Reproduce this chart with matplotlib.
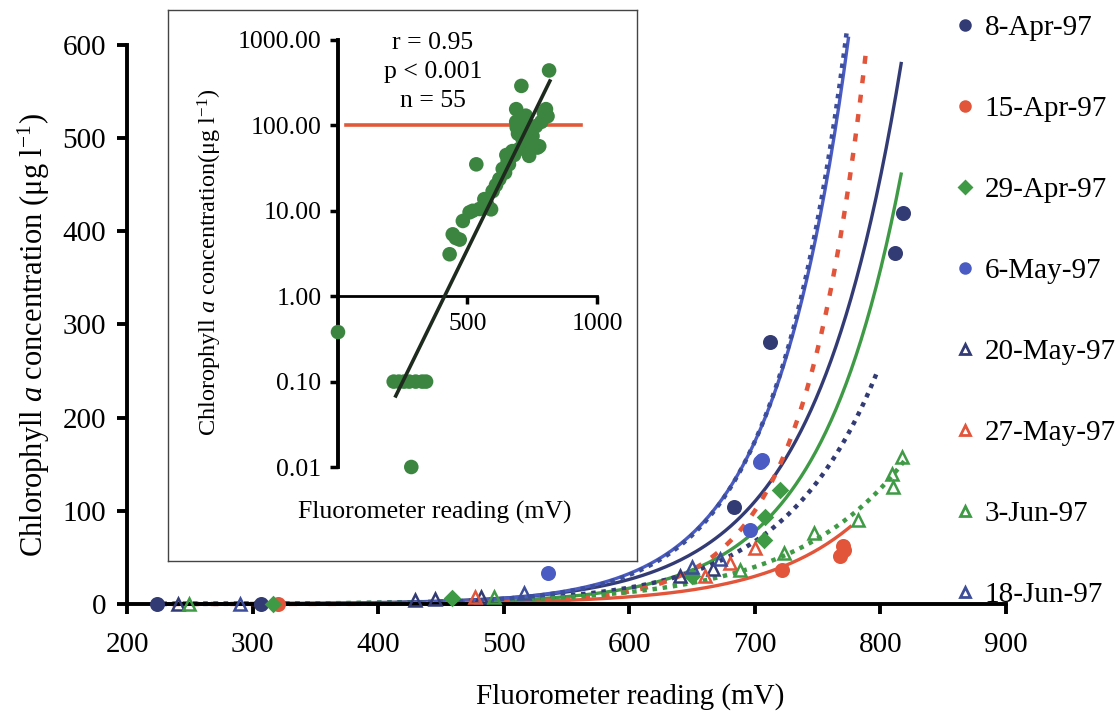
import numpy as np
import matplotlib
matplotlib.use("Agg")
import matplotlib.pyplot as plt
from matplotlib.lines import Line2D

plt.rcParams['font.family'] = ['Liberation Serif', 'DejaVu Serif']
plt.rcParams['mathtext.fontset'] = 'custom'
plt.rcParams['mathtext.rm'] = 'Liberation Serif'
plt.rcParams['mathtext.it'] = 'Liberation Serif:italic'

# ---- series (dates), colours, markers
dates = ['8-Apr-97', '15-Apr-97', '29-Apr-97', '6-May-97',
         '20-May-97', '27-May-97', '3-Jun-97', '18-Jun-97']
colors = ['#333b75', '#e2553a', '#3f9a45', '#4a5cc4',
          '#333b75', '#e2553a', '#3f9a45', '#3c4d9a']
markers = ['o', 'o', 'D', 'o', '^', '^', '^', '^']
filled = [True, True, True, True, False, False, False, False]

# measured points (mV, ug/l)
pts_x = [
    [224, 307, 683, 712, 812, 818],
    [320, 722, 768, 771, 770],
    [316, 459, 650, 707, 708, 720],
    [535, 696, 704, 706],
    [241, 429, 445, 482, 640, 667],
    [477, 660, 680, 700],
    [249, 492, 688, 723, 747, 782, 809, 810, 817],
    [290, 516, 650, 672],
]
pts_y = [
    [0.2, 0.5, 104, 281, 377, 420],
    [0.5, 36, 52, 58, 62],
    [0.5, 6, 30, 69, 93, 122],
    [33, 79, 152, 155],
    [0.5, 4, 5, 8, 30, 38],
    [8, 30, 44, 60],
    [0.5, 8, 36, 55, 76, 90, 140, 126, 158],
    [0.5, 12, 40, 48],
]

# exponential trend lines y = a*exp(b*x), drawn from x_start to x_end
fit_a = [5.05e-3, 2.34e-3, 1.79e-3, 1.41e-3, 5.52e-3, 7.76e-5, 1.422e-2, 1.03e-3]
fit_b = [0.01427, 0.0135, 0.01526, 0.01675, 0.01344, 0.0201, 0.01134, 0.0172]
fit_x0 = [220, 220, 220, 220, 220, 220, 220, 220]
fit_x1 = [816.5, 776, 816.5, 774.5, 798, 789, 821.5, 773]
fit_dotted = [False, False, False, False, True, True, True, True]

# inset data: pooled points (mV, ug/l), log scale
inset_x = [0, 215, 235, 255, 275, 300, 325, 340, 283,
           431, 443, 455, 470, 482, 508, 520,
           534, 546, 565, 575, 591, 597, 610,
           623, 636, 645, 655, 661, 673, 680,
           688, 688, 695, 700, 708, 712, 718,
           726, 730, 738, 745, 751, 764, 770, 777,
           785, 795, 803, 809, 815, 725, 705, 690, 660, 650]
inset_y = [0.38, 0.1, 0.1, 0.1, 0.1, 0.1, 0.1, 0.1, 0.01,
           3.1, 5.3, 4.8, 4.6, 7.6, 9.6, 10,
           35, 10.5, 13.7, 12, 10.4, 17, 20,
           23.5, 31, 28, 38, 40, 50, 45,
           155, 110, 80, 53, 290, 70, 100,
           90, 60, 44, 65, 75, 98, 55, 57,
           110, 140, 155, 128, 440, 130, 120, 95, 35, 45]
reg_x = [223, 818]
reg_y = [0.068, 331]
limit_x = [31, 938]
limit_y = [100, 100]
stats = ['r = 0.95', 'p < 0.001', 'n = 55']

fig = plt.figure(figsize=(11.15, 7.22), dpi=100)
W, H = 1115, 722

def fx(px):
    return px / W

def fy(py):
    return 1 - py / H

# ---- main axes
ax = fig.add_axes([fx(127), fy(604), fx(1006) - fx(127), fy(26.3) - fy(604)])
ax.set_xlim(200, 900)
ax.set_ylim(0, 620)
for s in ['top', 'right']:
    ax.spines[s].set_visible(False)
ax.spines['left'].set_linewidth(2.8)
ax.spines['bottom'].set_linewidth(2.8)
ax.spines['left'].set_bounds(0, 600)
ax.spines['bottom'].set_bounds(200, 900)
ax.set_xticks(range(200, 901, 100))
ax.set_yticks(range(0, 601, 100))
ax.tick_params(direction='out', length=7, width=2.8, labelsize=21)
ax.tick_params(axis='x', pad=13)
ax.tick_params(axis='y', pad=8)

for i in range(8):
    xs = np.linspace(fit_x0[i], fit_x1[i], 300)
    ys = fit_a[i] * np.exp(fit_b[i] * xs)
    if fit_dotted[i]:
        ls = (0, (1.0, 1.3)) if i != 5 else (0, (1.8, 2.6))
        ax.plot(xs, ys, color=colors[i], lw=3.2, ls=ls, zorder=2, clip_on=False)
    else:
        ax.plot(xs, ys, color=colors[i], lw=2.4, zorder=2, clip_on=False)

handles = []
for i in range(8):
    fc = colors[i] if filled[i] else 'none'
    ms = 9 if markers[i] == 'o' else (7 if markers[i] == 'D' else 8)
    ax.plot(pts_x[i], pts_y[i], ls='none', marker=markers[i], ms=ms,
            mfc=fc, mec=colors[i], mew=1.8, zorder=3, clip_on=False)
    handles.append(Line2D([], [], ls='none', marker=markers[i],
                          ms=7 if markers[i] != 'D' else 6,
                          mfc=fc, mec=colors[i], mew=2))

ax.set_xlabel('Fluorometer reading (mV)', fontsize=21)
ax.xaxis.set_label_coords((630 - 127) / 879, (604 - 683) / 577.7)
ax.set_ylabel('Chlorophyll $a$ concentration (μg l$^{-1}$)', fontsize=22)
ax.yaxis.set_label_coords((52 - 127) / 879, (604 - 335) / 577.7)

fig.legend(handles, dates, loc='upper left', bbox_to_anchor=(fx(945), fy(3)),
           frameon=False, fontsize=21, handlelength=0.6, handletextpad=0.35,
           labelspacing=1.87, borderaxespad=0)

# ---- inset frame
box = fig.add_axes([fx(168), fy(561), fx(637) - fx(168), fy(10) - fy(561)])
box.set_xticks([])
box.set_yticks([])
for s in box.spines.values():
    s.set_linewidth(1.0)
    s.set_color('#444444')
box.set_zorder(5)

# ---- inset axes
ins = fig.add_axes([fx(338), fy(467), fx(597) - fx(338), fy(40) - fy(467)])
ins.set_zorder(6)
ins.patch.set_alpha(0)
ins.set_yscale('log')
ins.set_ylim(0.01, 1000)
ins.set_xlim(0, 1000)
ins.spines['top'].set_visible(False)
ins.spines['right'].set_visible(False)
ins.spines['left'].set_linewidth(2.8)
ins.spines['bottom'].set_linewidth(2.0)
ins.spines['bottom'].set_position(('data', 1))
ins.set_yticks([0.01, 0.1, 1, 10, 100, 1000])
ins.set_yticklabels(['0.01', '0.10', '1.00', '10.00', '100.00', '1000.00'])
ins.minorticks_off()
ins.set_xticks([500, 1000])
ins.tick_params(direction='out', length=6, width=2.5, labelsize=18.5, pad=6)

ins.scatter(inset_x, inset_y, s=110, color='#3b8540', zorder=3, clip_on=False,
            edgecolors='none')
ins.plot(limit_x, limit_y, color='#e05a3a', lw=2.6, zorder=2, clip_on=False)
ins.plot(reg_x, reg_y, color='#1e2a1e', lw=2.6, zorder=4, clip_on=False)

for k, t in enumerate(stats):
    fig.text(fx(433), fy(43 + 29 * k), t, fontsize=18.5, ha='center', va='center',
             zorder=10)

fig.text(fx(435), fy(512), 'Fluorometer reading (mV)', fontsize=18.5,
         ha='center', va='center', zorder=10)
fig.text(fx(210), fy(262), 'Chlorophyll $a$ concentration(μg l$^{-1}$)',
         fontsize=17.5, rotation=90, ha='center', va='center', zorder=10)

fig.savefig('out.png', dpi=100)
